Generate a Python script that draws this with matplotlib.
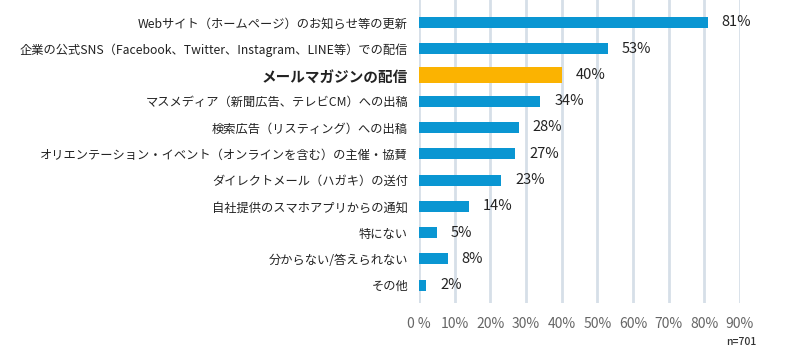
import matplotlib
matplotlib.use("Agg")
import matplotlib.pyplot as plt

plt.rcParams['font.family'] = ['Noto Sans CJK JP', 'DejaVu Sans']

categories = [
    "Webサイト（ホームページ）のお知らせ等の更新",
    "企業の公式SNS（Facebook、Twitter、Instagram、LINE等）での配信",
    "メールマガジンの配信",
    "マスメディア（新聞広告、テレビCM）への出稿",
    "検索広告（リスティング）への出稿",
    "オリエンテーション・イベント（オンラインを含む）の主催・協賛",
    "ダイレクトメール（ハガキ）の送付",
    "自社提供のスマホアプリからの通知",
    "特にない",
    "分からない/答えられない",
    "その他",
]
values = [81, 53, 40, 34, 28, 27, 23, 14, 5, 8, 2]
highlight = "メールマガジンの配信"
xticks = [0, 10, 20, 30, 40, 50, 60, 70, 80, 90]
xtick_labels = ["0 %"] + [f"{t}%" for t in xticks[1:]]

blue = "#0a96d2"
orange = "#fbb301"

fig = plt.figure(figsize=(8, 3.54), dpi=100)
ax = fig.add_axes([0.524, 0.144, 0.401, 0.856])

ypos = list(range(len(categories)))
for y, cat, v in zip(ypos, categories, values):
    hl = cat == highlight
    ax.barh(y, v, height=0.6 if hl else 0.42, color=orange if hl else blue, zorder=3)
    ax.annotate(f"{v}%", (v, y), xytext=(10, 0), textcoords="offset points",
                ha="left", va="center", fontsize=10.5, color="#222222",
                annotation_clip=False)

ax.set_xlim(0, 90)
ax.set_ylim(10.68, -0.85)
ax.set_xticks(xticks)
ax.set_xticklabels(xtick_labels, fontsize=10, color="#666666")
ax.set_yticks(ypos)
ax.set_yticklabels(categories, fontsize=8.8, color="#222222")
for lbl in ax.get_yticklabels():
    if lbl.get_text() == highlight:
        lbl.set_fontweight("bold")
        lbl.set_fontsize(10.5)

ax.tick_params(axis="y", length=0, pad=8)
ax.tick_params(axis="x", length=0, pad=10)
ax.grid(axis="x", color="#d6dfe8", linewidth=2, zorder=0)
for s in ax.spines.values():
    s.set_visible(False)

fig.text(0.946, 0.033, "n=701", fontsize=7.5, fontweight="medium", color="#333333",
         ha="right", va="center")

fig.savefig("out.png", dpi=100, facecolor="white")
